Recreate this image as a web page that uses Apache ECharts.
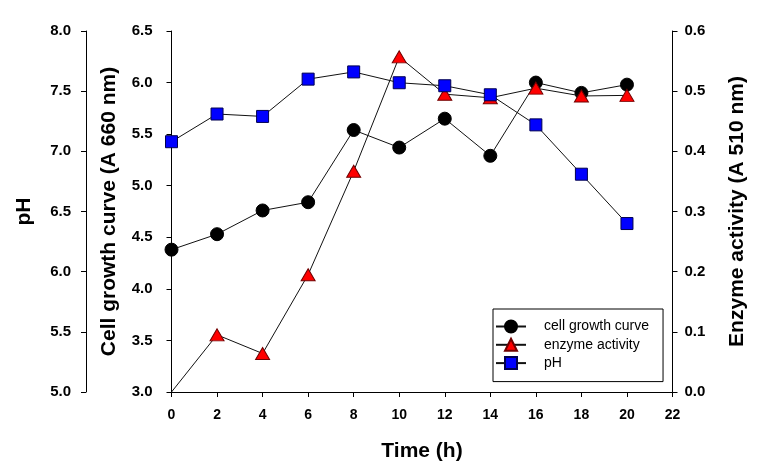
<!DOCTYPE html>
<html>
<head>
<meta charset="utf-8">
<script src="https://cdn.jsdelivr.net/npm/echarts@6/dist/echarts.min.js"></script>
<style>
html,body{margin:0;padding:0;background:#fff;}
#chart{width:779px;height:472px;}
</style>
</head>
<body>
<div id="chart"></div>
<script>
var timeHours = [0, 2, 4, 6, 8, 10, 12, 14, 16, 18, 20];
var cellGrowth = [4.38, 4.53, 4.76, 4.84, 5.54, 5.37, 5.65, 5.29, 6.00, 5.90, 5.98];
var enzymeActivity = [0.0, 0.095, 0.064, 0.195, 0.367, 0.557, 0.495, 0.489, 0.505, 0.492, 0.493];
var phValues = [7.08, 7.31, 7.29, 7.60, 7.66, 7.57, 7.545, 7.47, 7.22, 6.81, 6.40];
var seriesNames = ['cell growth curve', 'enzyme activity', 'pH'];

var FONT = 'Arial, "Liberation Sans", sans-serif';

function pairs(vals, hideFirst) {
  return vals.map(function (v, i) {
    var item = { value: [timeHours[i], v] };
    if (hideFirst && i === 0) { item.symbolSize = 0; }
    return item;
  });
}

var chart = echarts.init(document.getElementById('chart'), null, { renderer: 'canvas' });

var axisCommon = {
  axisLine: { show: true, lineStyle: { color: '#000', width: 1 } },
  axisTick: { show: true, inside: false, length: 5, lineStyle: { color: '#000', width: 1 } },
  splitLine: { show: false },
  nameTextStyle: { fontFamily: FONT, fontSize: 21, fontWeight: 'bold', color: '#000' }
};

function yAxis(opts) {
  return Object.assign({
    type: 'value',
    nameLocation: 'middle',
    nameRotate: 90,
    axisLine: axisCommon.axisLine,
    axisTick: axisCommon.axisTick,
    splitLine: axisCommon.splitLine,
    nameTextStyle: axisCommon.nameTextStyle
  }, opts);
}

var option = {
  backgroundColor: '#fff',
  animation: false,
  grid: { left: 171.5, right: 106.5, top: 31, bottom: 80, containLabel: false },
  legend: {
    data: seriesNames,
    orient: 'vertical',
    left: 493,
    top: 309,
    itemWidth: 30,
    itemHeight: 15,
    itemGap: 3.3,
    padding: [10, 14, 11, 2],
    borderColor: '#000',
    borderWidth: 1,
    borderRadius: 0,
    textStyle: { fontFamily: FONT, fontSize: 14, color: '#000', lineHeight: 15, padding: [0, 0, 0, 13] }
  },
  xAxis: {
    type: 'value',
    min: 0, max: 22, interval: 2,
    name: 'Time (h)',
    nameLocation: 'middle',
    nameGap: 49,
    nameTextStyle: axisCommon.nameTextStyle,
    axisLine: axisCommon.axisLine,
    axisTick: axisCommon.axisTick,
    splitLine: { show: false },
    axisLabel: { fontFamily: FONT, fontSize: 14, fontWeight: 'bold', color: '#000', margin: 16 }
  },
  yAxis: [
    yAxis({
      name: 'Cell growth curve (A 660 nm)',
      position: 'left', offset: 0,
      min: 3, max: 6.5, interval: 0.5,
      nameGap: 52,
      axisLabel: { fontFamily: FONT, fontSize: 15, fontWeight: 'bold', color: '#000', margin: 19,
        formatter: function (v) { return v.toFixed(1); } }
    }),
    yAxis({
      name: 'pH',
      position: 'left', offset: 85.5,
      min: 5, max: 8, interval: 0.5,
      nameGap: 51,
      axisLabel: { fontFamily: FONT, fontSize: 15, fontWeight: 'bold', color: '#000', margin: 15,
        formatter: function (v) { return v.toFixed(1); } }
    }),
    yAxis({
      name: 'Enzyme activity (A 510 nm)',
      position: 'right', offset: 0,
      min: 0, max: 0.6, interval: 0.1,
      nameGap: 54,
      nameRotate: 90,
      axisLabel: { fontFamily: FONT, fontSize: 15, fontWeight: 'bold', color: '#000', margin: 12,
        formatter: function (v) { return v.toFixed(1); } }
    })
  ],
  series: [
    {
      name: seriesNames[0], type: 'line', yAxisIndex: 0,
      data: pairs(cellGrowth, false),
      symbol: 'circle', symbolSize: 13,
      lineStyle: { color: '#111', width: 1 },
      itemStyle: { color: '#000', borderColor: '#000', borderWidth: 1 },
      z: 2
    },
    {
      name: seriesNames[1], type: 'line', yAxisIndex: 2,
      data: pairs(enzymeActivity, true),
      symbol: 'triangle', symbolSize: [14, 12],
      lineStyle: { color: '#111', width: 1 },
      itemStyle: { color: '#ff0000', borderColor: '#700000', borderWidth: 1 },
      z: 3
    },
    {
      name: seriesNames[2], type: 'line', yAxisIndex: 1,
      data: pairs(phValues, false),
      symbol: 'rect', symbolSize: 12,
      lineStyle: { color: '#111', width: 1 },
      itemStyle: { color: '#0000ff', borderColor: '#000050', borderWidth: 1 },
      z: 4
    }
  ]
};

chart.setOption(option);
</script>
</body>
</html>
